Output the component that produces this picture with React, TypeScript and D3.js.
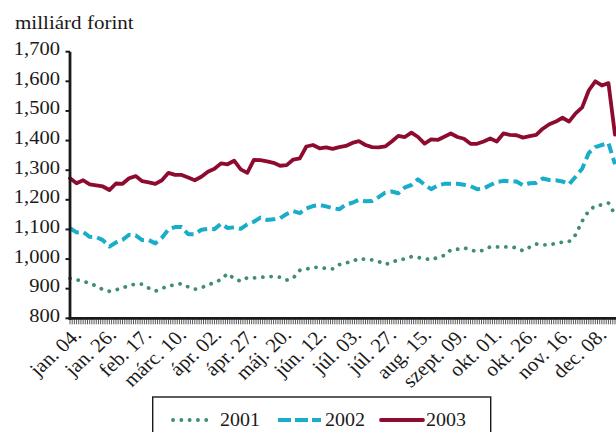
import React from "react";
import * as d3 from "d3";

const tickLabels = ["jan. 04.", "jan. 26.", "feb. 17.", "márc. 10.", "ápr. 02.", "ápr. 27.", "máj. 20.", "jún. 12.", "júl. 03.", "júl. 27.", "aug. 15.", "szept. 09.", "okt. 01.", "okt. 26.", "nov. 16.", "dec. 08."];
const FIRST_LABEL_DAY = 2;
const LABEL_EVERY = 16;
const TOTAL_DAYS = 250;
const SAMPLE_STEP = 3;

const yTicks = [800, 900, 1000, 1100, 1200, 1300, 1400, 1500, 1600, 1700];

const s2001 = [935, 930, 925, 918, 909, 897, 891, 896, 903, 910, 916, 915, 902, 892, 901, 909, 913, 917, 906, 898, 903, 913, 920, 931, 951, 934, 925, 937, 936, 938, 941, 941, 939, 929, 936, 962, 966, 972, 972, 968, 967, 981, 987, 992, 1002, 999, 997, 992, 982, 988, 998, 1000, 1008, 1005, 1002, 997, 1006, 1012, 1031, 1033, 1038, 1031, 1025, 1030, 1041, 1041, 1041, 1041, 1038, 1028, 1040, 1051, 1048, 1048, 1053, 1057, 1059, 1082, 1128, 1163, 1180, 1183, 1189, 1150];
const s2002 = [1104, 1090, 1091, 1075, 1074, 1064, 1042, 1056, 1065, 1082, 1080, 1064, 1064, 1053, 1072, 1100, 1108, 1108, 1084, 1084, 1099, 1102, 1101, 1119, 1105, 1107, 1102, 1117, 1126, 1140, 1132, 1134, 1138, 1152, 1162, 1155, 1171, 1179, 1183, 1178, 1172, 1168, 1184, 1190, 1200, 1195, 1196, 1209, 1224, 1228, 1222, 1242, 1250, 1269, 1251, 1236, 1248, 1254, 1254, 1254, 1251, 1246, 1236, 1238, 1250, 1260, 1264, 1262, 1262, 1249, 1256, 1257, 1272, 1267, 1266, 1262, 1252, 1278, 1305, 1358, 1378, 1385, 1392, 1320];
const s2003 = [1273, 1256, 1266, 1252, 1249, 1245, 1233, 1255, 1254, 1273, 1280, 1263, 1259, 1254, 1266, 1291, 1284, 1284, 1275, 1266, 1278, 1295, 1305, 1323, 1320, 1332, 1303, 1291, 1335, 1334, 1330, 1325, 1315, 1317, 1336, 1340, 1380, 1385, 1374, 1377, 1372, 1378, 1382, 1392, 1398, 1385, 1378, 1377, 1380, 1397, 1416, 1412, 1427, 1412, 1390, 1404, 1402, 1413, 1424, 1412, 1406, 1389, 1389, 1397, 1407, 1397, 1424, 1419, 1418, 1410, 1415, 1419, 1440, 1455, 1464, 1477, 1464, 1492, 1512, 1569, 1600, 1586, 1594, 1420];

const seriesNames = ["2001", "2002", "2003"];

const FONT = "Liberation Serif, Times New Roman, DejaVu Serif, serif";
const SX = 1.08;
const textStyle = { fontFamily: FONT };

export default function App() {
  const W = 616, H = 432;
  const left = 70, right = 615, top = 51.7, bottom = 318.3;
  const x = d3.scaleLinear().domain([0, TOTAL_DAYS - 1]).range([left, right]);
  const y = d3.scaleLinear().domain([800, 1700]).range([bottom, top]);

  const line = d3.line<number>()
    .x((_, i) => x(i * SAMPLE_STEP))
    .y((d) => y(d));

  const series = [
    { name: seriesNames[0], data: s2001, color: "#3F8E6F", width: 3.8, dash: "0.1 8.2", cap: "round" as const },
    { name: seriesNames[1], data: s2002, color: "#19ADCA", width: 4, dash: "10 5", cap: "butt" as const },
    { name: seriesNames[2], data: s2003, color: "#8E0B30", width: 3.8, dash: undefined, cap: "round" as const },
  ];

  const dayTicks = d3.range(0, TOTAL_DAYS);

  const legendItems = [
    { s: series[0], x0: 173, x1: 214, tx: 220 },
    { s: series[1], x0: 278, x1: 321, tx: 325 },
    { s: series[2], x0: 381, x1: 423, tx: 426 },
  ];

  return (
    <svg width={W} height={H} style={{ position: "absolute", left: 0, top: 0, background: "#fff" }}>
      <rect x={0} y={0} width={W} height={H} fill="#fff" />
      <text style={textStyle} transform={`translate(15,29) scale(${SX},1)`} fontSize={19.5} fill="#1a1a1a">milliárd forint</text>

      {yTicks.map((t) => (
        <g key={t}>
          <line x1={65.5} x2={left} y1={y(t)} y2={y(t)} stroke="#1a1a1a" strokeWidth={2} />
          <text style={textStyle} transform={`translate(60,${y(t) + 3.5}) scale(${SX},1)`} textAnchor="end" fontSize={19} fill="#1a1a1a">
            {d3.format(",")(t)}
          </text>
        </g>
      ))}

      {dayTicks.map((d) => (
        <line key={d} x1={x(d)} x2={x(d)} y1={bottom} y2={bottom + 6} stroke="#444" strokeWidth={0.9} />
      ))}

      {tickLabels.map((lab, i) => {
        const d = FIRST_LABEL_DAY + i * LABEL_EVERY;
        return (
          <text key={lab} style={textStyle} transform={`translate(${x(d) + 8},336) scale(${SX},1) rotate(-45)`} textAnchor="end" fontSize={19.5} fill="#1a1a1a">
            {lab}
          </text>
        );
      })}

      <g>
        {series.map((s) => (
          <path key={s.name} d={line(s.data) || ""} fill="none" stroke={s.color} strokeWidth={s.width}
            strokeDasharray={s.dash} strokeLinecap={s.cap} strokeLinejoin="round" />
        ))}
      </g>

      <line x1={left} x2={left} y1={top} y2={bottom + 1.5} stroke="#1a1a1a" strokeWidth={2.8} />
      <line x1={left - 1.4} x2={W} y1={bottom} y2={bottom} stroke="#1a1a1a" strokeWidth={2.8} />

      <rect x={152.7} y={397} width={338} height={60} fill="#fff" stroke="#1a1a1a" strokeWidth={1.4} />
      {legendItems.map((it) => (
        <g key={it.s.name}>
          <line x1={it.x0} x2={it.x1} y1={420} y2={420} stroke={it.s.color} strokeWidth={it.s.width}
            strokeDasharray={it.s.name === "2002" ? "13 4" : it.s.dash} strokeLinecap={it.s.cap} />
          <text style={textStyle} transform={`translate(${it.tx},425.5) scale(${SX},1)`} fontSize={18.5} fill="#1a1a1a">{it.s.name}</text>
        </g>
      ))}
    </svg>
  );
}
